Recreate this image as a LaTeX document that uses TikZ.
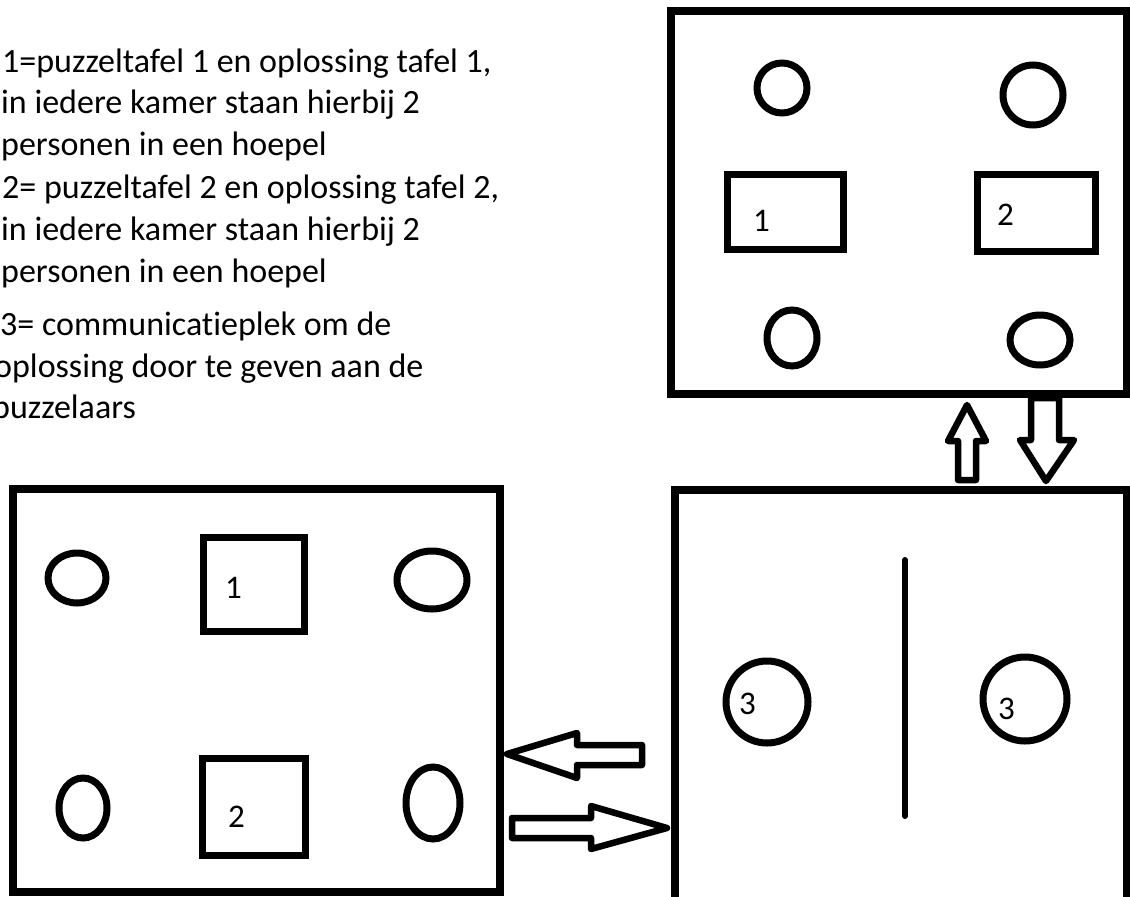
\documentclass[tikz,border=0pt]{standalone}
\usepackage{fontspec}
\setmainfont[Ligatures=NoCommon]{Carlito}
\begin{document}
\begin{tikzpicture}[x=1pt,y=-1pt,
  room/.style={draw=black,line width=8pt,line join=miter},
  tbl/.style={draw=black,line width=7pt},
  hoop/.style={draw=black,line width=7pt},
  blockarrow/.style={draw=black,line width=6.5pt,line join=round,fill=white},
  legend/.style={anchor=base west,inner sep=0pt,font=\fontsize{34}{40}\selectfont},
  lbl/.style={anchor=base west,inner sep=0pt,font=\fontsize{33}{40}\selectfont}]
\clip (0,0) rectangle (1130,897);
\fill[white] (0,0) rectangle (1130,897);
% legend
\node[legend] (l1) at (2,72) {1=puzzeltafel 1 en oplossing tafel 1,};
\node[legend] (l2) at (1,113) {in iedere kamer staan hierbij 2};
\node[legend] (l3) at (1,155) {personen in een hoepel};
\node[legend] (l4) at (2,198) {2= puzzeltafel 2 en oplossing tafel 2,};
\node[legend] (l5) at (1,240) {in iedere kamer staan hierbij 2};
\node[legend] (l6) at (1,282) {personen in een hoepel};
\node[legend] (l7) at (0,335) {3= communicatieplek om de};
\node[legend] (l8) at (-6,377) {oplossing door te geven aan de};
\node[legend] (l9) at (-8,418) {puzzelaars};
% top room
\draw[room] (671,11) rectangle (1127,394);
\draw[hoop] (782,88) ellipse [x radius=25,y radius=25];
\draw[hoop] (1033,95) ellipse [x radius=30,y radius=30];
\draw[tbl] (727,174) rectangle (843,249);
\draw[tbl] (977,174) rectangle (1095,251);
\node[lbl] (t1) at (753,231) {1};
\node[lbl] (t2) at (997,225) {2};
\draw[hoop] (792,338) ellipse [x radius=25,y radius=28];
\draw[hoop] (1040,340) ellipse [x radius=30,y radius=25];
% bottom-left room
\draw[room] (13,489) rectangle (500,892);
\draw[hoop] (77,578) ellipse [x radius=29,y radius=25];
\draw[hoop] (432,580) ellipse [x radius=35,y radius=29];
\draw[tbl] (203,537) rectangle (304,631);
\node[lbl] (b1) at (225,598) {1};
\draw[hoop] (83,808) ellipse [x radius=24,y radius=30];
\draw[hoop] (433,803) ellipse [x radius=27,y radius=36];
\draw[tbl] (202,758) rectangle (305,855);
\node[lbl] (b2) at (228,827) {2};
% bottom-right room
\draw[room] (675,490) rectangle (1127,910);
\draw[line width=6pt,line cap=round] (905,560) -- (905,816);
\draw[hoop] (767,702) circle [radius=41];
\draw[hoop] (1025,699) circle [radius=42];
\node[lbl] (c1) at (739,714) {3};
\node[lbl] (c2) at (998,719) {3};
% block arrows
\draw[blockarrow] (507,754) -- (577,733) -- (577,745) -- (642,745) -- (642,765) -- (577,765) -- (577,778) -- cycle;
\draw[blockarrow] (667,828) -- (591,806) -- (591,818) -- (512,818) -- (512,838) -- (591,838) -- (591,849) -- cycle;
\draw[blockarrow] (967,405) -- (986,441) -- (976,441) -- (976,480) -- (958,480) -- (958,441) -- (948,441) -- cycle;
\draw[blockarrow] (1046,481) -- (1074,440) -- (1059,440) -- (1059,398) -- (1031,398) -- (1031,440) -- (1020,440) -- cycle;
\end{tikzpicture}
\end{document}
